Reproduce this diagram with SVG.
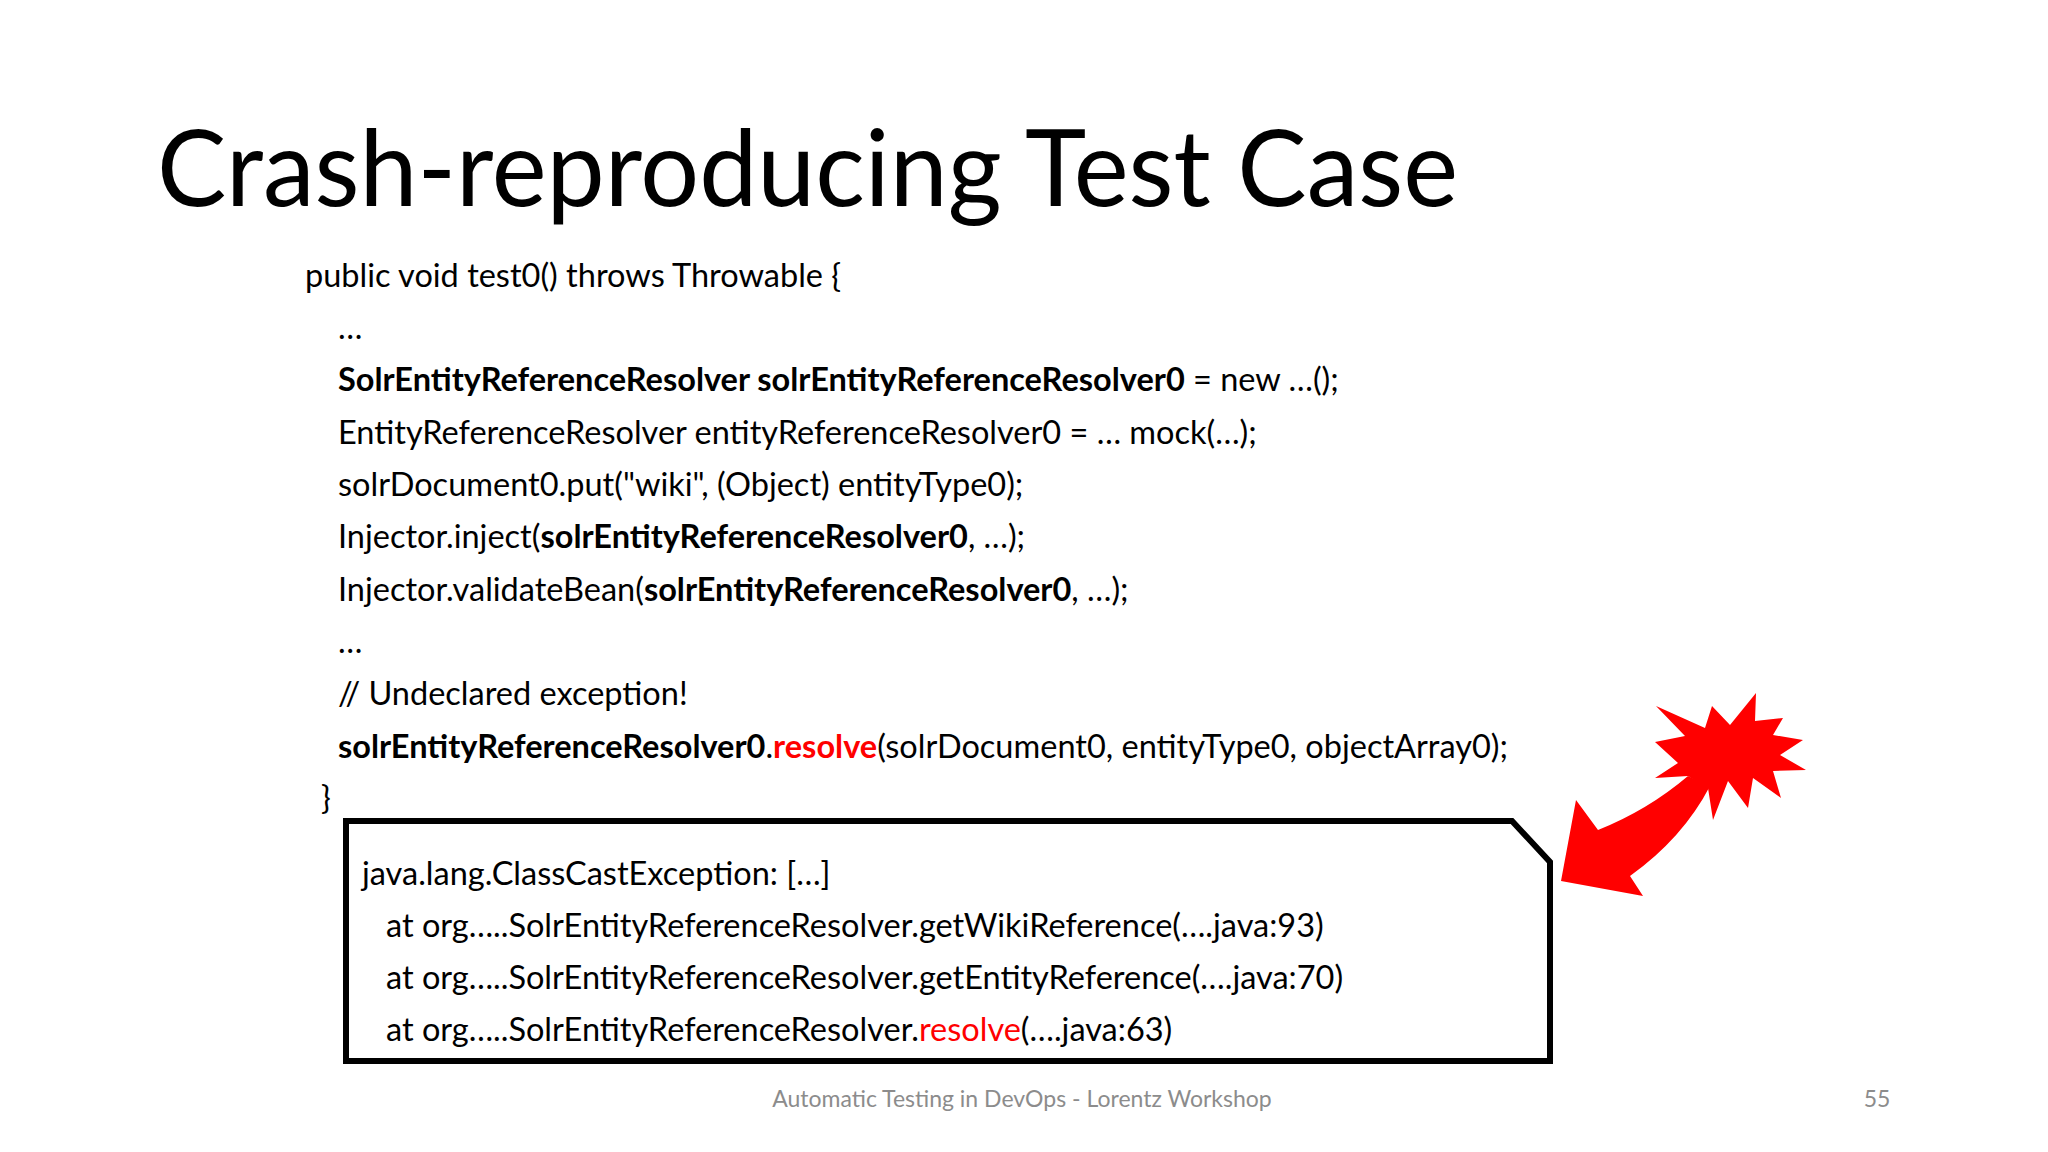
<svg xmlns="http://www.w3.org/2000/svg" width="2048" height="1152" viewBox="0 0 2048 1152">
<style>
text{font-family:Lato,"Open Sans",sans-serif;fill:#000}
.c{font-size:32.5px}
.b{font-weight:bold}
.r{fill:#ff0000}
.f{font-size:23px;fill:#8c8c8c}
</style>
<rect width="2048" height="1152" fill="#fff"/>
<g id="title"><text x="157" y="206" font-size="107" textLength="1301" lengthAdjust="spacingAndGlyphs">Crash-reproducing Test Case</text></g>
<g id="code">
<text class="c" x="305" y="287">public void test0()  throws Throwable  {</text>
<text class="c" x="338" y="339">…</text>
<text class="c" x="338" y="391"><tspan class="b">SolrEntityReferenceResolver solrEntityReferenceResolver0</tspan> = new …();</text>
<text class="c" x="338" y="444">EntityReferenceResolver entityReferenceResolver0 = … mock(…);</text>
<text class="c" x="338" y="496">solrDocument0.put("wiki", (Object) entityType0);</text>
<text class="c" x="338" y="548">Injector.inject(<tspan class="b">solrEntityReferenceResolver0</tspan>, …);</text>
<text class="c" x="338" y="601">Injector.validateBean(<tspan class="b">solrEntityReferenceResolver0</tspan>, …);</text>
<text class="c" x="338" y="653">…</text>
<text class="c" x="338" y="705">// Undeclared exception!</text>
<text class="c" x="338" y="758"><tspan class="b">solrEntityReferenceResolver0</tspan>.<tspan class="b r">resolve</tspan>(solrDocument0, entityType0, objectArray0);</text>
<text class="c" x="321" y="809">}</text>
</g>
<g id="trace">
<path d="M346,821 L1512,821 L1550,862 L1550,1061 L346,1061 Z" fill="#fff" stroke="#000" stroke-width="6"/>
<text class="c" x="362" y="885">java.lang.ClassCastException: […]</text>
<text class="c" x="386" y="937">at org…..SolrEntityReferenceResolver.getWikiReference(….java:93)</text>
<text class="c" x="386" y="989">at org…..SolrEntityReferenceResolver.getEntityReference(….java:70)</text>
<text class="c" x="386" y="1041">at org…..SolrEntityReferenceResolver.<tspan class="r">resolve</tspan>(….java:63)</text>
</g>
<g id="burst" fill="#ff0000" transform="translate(-2,-2)">
<path d="M1658,708 L1707,730 L1714,708 L1732,727 L1758,695 L1757,723 L1785,720 L1775,737 L1805,742 L1782,757 L1808,772 L1775,773 L1783,800 L1755,780 L1750,810 L1730,783 L1715,822 L1710,790 L1690,778 L1657,780 L1680,765 L1657,744 L1687,738 Z"/>
<path d="M1690,778 Q1650,812 1600,832 L1578,802 L1563,883 L1645,898 L1632,878 Q1685,840 1712,788 Z"/>
</g>
<g id="footer">
<text class="f" x="1022" y="1107" text-anchor="middle">Automatic Testing in DevOps - Lorentz Workshop</text>
<text class="f" x="1877" y="1107" text-anchor="middle">55</text>
</g>
</svg>
